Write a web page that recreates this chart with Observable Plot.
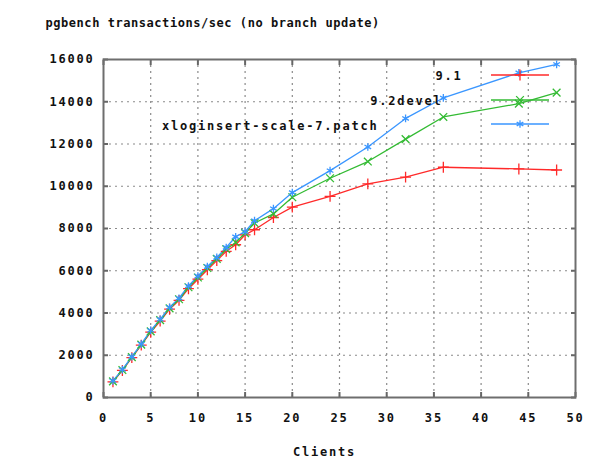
<!DOCTYPE html>
<html>
<head>
<meta charset="utf-8">
<script src="https://cdn.jsdelivr.net/npm/d3@7"></script>
<script src="https://cdn.jsdelivr.net/npm/@observablehq/plot@0.6"></script>
<style>
  html, body { margin: 0; padding: 0; background: #fff; }
  #chart { position: relative; width: 615px; height: 471px; }
</style>
</head>
<body>
<div id="chart"></div>
<script>
const titleText = "pgbench transactions/sec (no branch update)";
const xLabel = "Clients";
const clients = [1,2,3,4,5,6,7,8,9,10,11,12,13,14,15,16,18,20,24,28,32,36,44,48];
const v91 =    [740,1280,1890,2480,3090,3620,4180,4600,5150,5600,6050,6480,6920,7230,7700,7940,8520,9010,9520,10110,10430,10900,10820,10770];
const v92dev = [760,1300,1910,2500,3130,3660,4220,4650,5220,5680,6130,6560,7020,7340,7780,8260,8690,9480,10380,11170,12230,13280,13910,14430];
const vxlog =  [790,1320,1930,2530,3180,3700,4270,4700,5280,5750,6200,6630,7100,7610,7850,8370,8940,9700,10740,11860,13210,14180,15370,15770];
const seriesNames = ["9.1", "9.2devel", "xloginsert-scale-7.patch"];
const seriesValues = [v91, v92dev, vxlog];
const seriesColors = ["#ff2a2a", "#33bb33", "#3a96ff"];
const seriesSymbols = ["plus", "times", "asterisk"];
const xTicks = [0,5,10,15,20,25,30,35,40,45,50];
const yTicks = [0,2000,4000,6000,8000,10000,12000,14000,16000];

const data = seriesNames.flatMap((name, i) =>
  clients.map((c, j) => ({series: name, clients: c, tps: seriesValues[i][j]})));

const font = "DejaVu Sans Mono";
const lblStyle = {fontFamily: font, fontWeight: "bold", fontSize: 12, fill: "#111"};

// legend layout (pixel positions in the picture)
const legendTextEnd = [462, 442, 378];
const legendTextY = [71, 96, 121];
const legendKeyY = [75, 100, 124];

const plot = Plot.plot({
  width: 615,
  height: 471,
  marginLeft: 103,
  marginRight: 40,
  marginTop: 59,
  marginBottom: 74,
  style: {fontFamily: font, background: "#fff", overflow: "visible"},
  x: {domain: [0, 50]},
  y: {domain: [0, 16000]},
  color: {domain: seriesNames, range: seriesColors},
  symbol: {domain: seriesNames, range: seriesSymbols},
  marks: [
    Plot.gridX(xTicks.slice(1, -1), {stroke: "#8a8a8a", strokeOpacity: 1, strokeWidth: 1.2, strokeDasharray: "2,4"}),
    Plot.gridY(yTicks.slice(1, -1), {stroke: "#8a8a8a", strokeOpacity: 1, strokeWidth: 1.2, strokeDasharray: "2,4"}),
    Plot.axisX(xTicks, {anchor: "bottom", tickSize: -5, tickPadding: 21, label: null, stroke: "#666", strokeWidth: 2, ...lblStyle}),
    Plot.axisX(xTicks, {anchor: "top", tickSize: -5, text: null, label: null, stroke: "#666", strokeWidth: 2}),
    Plot.axisY(yTicks, {anchor: "left", tickSize: -5, tickPadding: 14, label: null, tickFormat: d => String(d), stroke: "#666", strokeWidth: 2, ...lblStyle}),
    Plot.axisY(yTicks, {anchor: "right", tickSize: -5, text: null, label: null, stroke: "#666", strokeWidth: 2}),
    Plot.frame({stroke: "#6e6e6e", strokeWidth: 2}),
    Plot.line(data, {x: "clients", y: "tps", z: "series", stroke: "series", strokeWidth: 1.3}),
    Plot.dot(data, {x: "clients", y: "tps", symbol: "series", stroke: "series", r: 3.6, strokeWidth: 1.3}),
    Plot.text([titleText], {frameAnchor: "top-left", dx: -58, dy: -41, textAnchor: "start", fontFamily: font, fontSize: 12, fontWeight: "bold", fill: "#111"}),
    Plot.text([xLabel], {frameAnchor: "bottom", dx: -15, dy: 58, ...lblStyle}),
    ...seriesNames.map((name, i) =>
      Plot.text([name], {frameAnchor: "top-left", textAnchor: "end", dx: legendTextEnd[i] - 103, dy: legendTextY[i] - 59, ...lblStyle}))
  ]
});

const svg = d3.select(plot);
// widen the monospace text like the original renderer
svg.selectAll("text").each(function() {
  const t = d3.select(this);
  t.style("letter-spacing", this.textContent === titleText ? "0.55px" : "1.8px");
});

// legend keys (line samples with the series symbol)
const g = svg.append("g").attr("fill", "none").attr("stroke-width", 1.3);
const symMap = {plus: d3.symbolPlus, times: d3.symbolTimes, asterisk: d3.symbolAsterisk};
seriesNames.forEach((name, i) => {
  g.append("line").attr("x1", 491).attr("x2", 549).attr("y1", legendKeyY[i]).attr("y2", legendKeyY[i]).attr("stroke", seriesColors[i]);
  g.append("path").attr("transform", `translate(520,${legendKeyY[i]})`)
    .attr("d", d3.symbol(symMap[seriesSymbols[i]], 3.6 * 3.6 * Math.PI)())
    .attr("stroke", seriesColors[i]);
});

document.getElementById("chart").append(plot);
</script>
</body>
</html>
